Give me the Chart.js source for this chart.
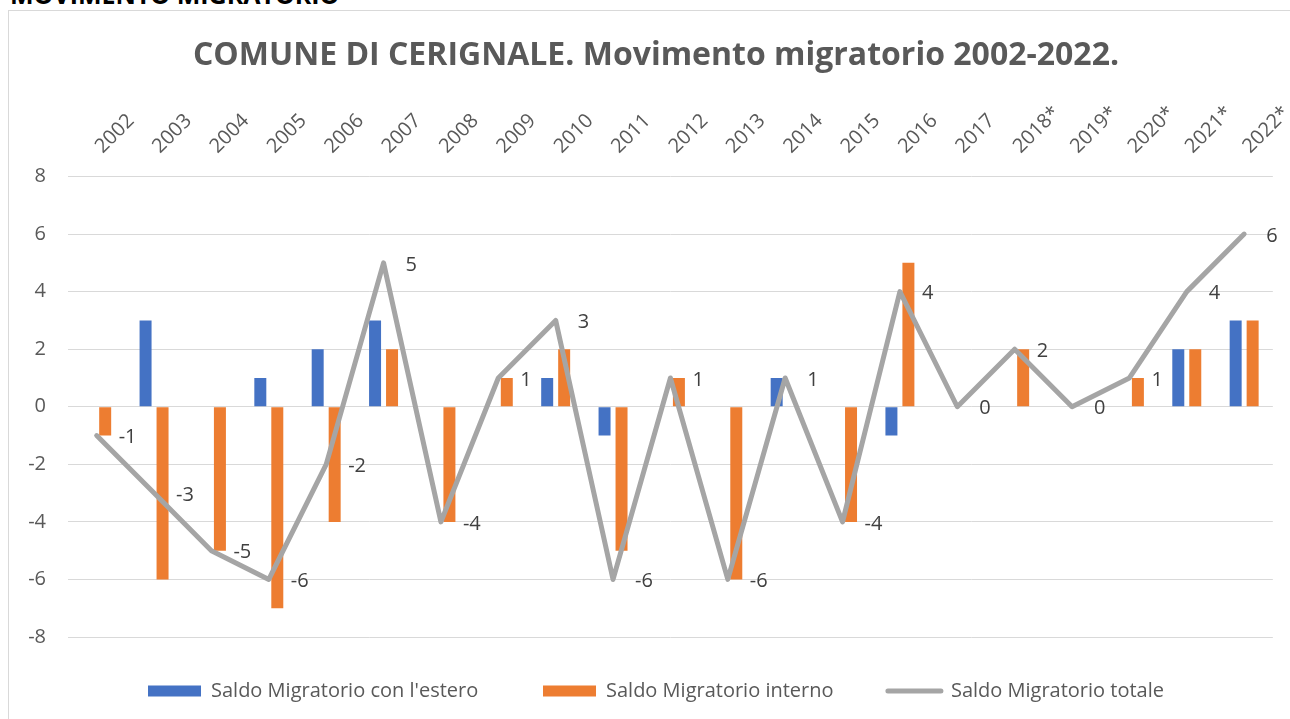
<!DOCTYPE html>
<html>
<head>
<meta charset="utf-8">
<title>Movimento migratorio</title>
<script src="https://cdn.jsdelivr.net/npm/chart.js@4.4.0/dist/chart.umd.min.js"></script>
<style>
  body { margin: 0; background: #fff; font-family: "Open Sans", sans-serif; overflow: hidden; }
  #header { position: absolute; left: 10px; top: -18px; margin: 0; font-size: 25px; line-height: 25px; font-weight: bold; color: #000; white-space: nowrap; }
  #frame { position: absolute; left: 8px; top: 10px; width: 1300px; height: 720px; border: 1px solid #d9d9d9; overflow: visible; }
  #wrap { position: absolute; left: 0; top: 0; width: 1294px; height: 708px; }
</style>
</head>
<body>
<div id="header">MOVIMENTO MIGRATORIO</div>
<div id="frame">
  <div id="wrap"><canvas id="myChart"></canvas></div>
</div>
<script>
// anni (con * le stime)
const years = ['2002', '2003', '2004', '2005', '2006', '2007', '2008', '2009', '2010', '2011',
  '2012', '2013', '2014', '2015', '2016', '2017', '2018*', '2019*', '2020*', '2021*', '2022*'];

const saldoEstero  = [0, 3, 0, 1, 2, 3, 0, 0, 1, -1, 0, 0, 1, 0, -1, 0, 0, 0, 0, 2, 3];
const saldoInterno = [-1, -6, -5, -7, -4, 2, -4, 1, 2, -5, 1, -6, 0, -4, 5, 0, 2, 0, 1, 2, 3];
const saldoTotale  = [-1, -3, -5, -6, -2, 5, -4, 1, 3, -6, 1, -6, 1, -4, 4, 0, 2, 0, 1, 4, 6];

const yTicks = [-8, -6, -4, -2, 0, 2, 4, 6, 8];

const seriesNames = ["Saldo Migratorio con l'estero", 'Saldo Migratorio interno', 'Saldo Migratorio totale'];

// etichette del saldo totale, a destra di ogni punto
const totalLabels = {
  id: 'totalLabels',
  afterLayout(chart) {
    // le etichette dell'asse y escono dalla sua larghezza: allargo la zona di clip
    chart.scales.y.left = 0;
  },
  afterDatasetsDraw(chart) {
    const meta = chart.getDatasetMeta(2);
    const ctx = chart.ctx;
    ctx.save();
    ctx.font = '20px "Open Sans"';
    ctx.fillStyle = '#404040';
    ctx.textAlign = 'left';
    ctx.textBaseline = 'middle';
    meta.data.forEach((pt, i) => {
      ctx.fillText(String(saldoTotale[i]), pt.x + 22, pt.y + 2);
    });
    ctx.restore();
  }
};

const legendPad = ['    ', '  ', ''];

new Chart(document.getElementById('myChart'), {
  type: 'bar',
  data: {
    labels: years,
    datasets: [{
      label: seriesNames[0],
      data: saldoEstero,
      backgroundColor: '#4472c4',
      order: 1,
      categoryPercentage: 0.592,
      barPercentage: 0.706
    }, {
      label: seriesNames[1],
      data: saldoInterno,
      backgroundColor: '#ed7d31',
      order: 1,
      categoryPercentage: 0.592,
      barPercentage: 0.706
    }, {
      type: 'line',
      label: seriesNames[2],
      data: saldoTotale,
      borderColor: '#a5a5a5',
      backgroundColor: '#a5a5a5',
      borderWidth: 5,
      pointRadius: 0,
      pointHoverRadius: 0,
      tension: 0,
      borderJoinStyle: 'round',
      borderCapStyle: 'round',
      order: 0
    }]
  },
  options: {
    responsive: true,
    maintainAspectRatio: false,
    animation: false,
    layout: { padding: { left: 30, right: 30, top: 0, bottom: 8 } },
    scales: {
      x: {
        position: 'top',
        offset: true,
        grid: { display: false, drawTicks: false },
        border: { display: false },
        ticks: {
          autoSkip: false,
          minRotation: 45,
          maxRotation: 45,
          labelOffset: 19,
          padding: 18,
          color: '#595959',
          font: { family: 'Open Sans', size: 20 }
        }
      },
      y: {
        min: -8,
        max: 8,
        grid: { color: '#d9d9d9', lineWidth: 1, drawTicks: false },
        border: { display: false },
        ticks: {
          padding: 22,
          color: '#595959',
          font: { family: 'Open Sans', size: 20 }
        },
        afterBuildTicks(scale) {
          scale.ticks = yTicks.map(v => ({ value: v }));
        },
        afterFit(scale) {
          scale.width = 29;
        }
      }
    },
    plugins: {
      title: {
        display: true,
        text: 'COMUNE DI CERIGNALE. Movimento migratorio 2002-2022.',
        color: '#595959',
        font: { family: 'Open Sans', size: 32, weight: 'bold' },
        padding: { top: 26, bottom: 8 }
      },
      legend: {
        position: 'bottom',
        labels: {
          usePointStyle: true,
          pointStyleWidth: 53,
          boxHeight: 11,
          padding: 44,
          color: '#595959',
          font: { family: 'Open Sans', size: 20 },
          generateLabels(chart) {
            const items = Chart.defaults.plugins.legend.labels.generateLabels(chart);
            items.forEach(it => {
              const ds = chart.data.datasets[it.datasetIndex];
              if (ds.type === 'line') {
                it.pointStyle = 'line';
                it.lineWidth = 5;
                it.strokeStyle = '#a5a5a5';
                it.lineCap = 'round';
              } else {
                it.pointStyle = 'rect';
                it.lineWidth = 0;
              }
              it.text = seriesNames[it.datasetIndex] + legendPad[it.datasetIndex];
            });
            return items.sort((a, b) => a.datasetIndex - b.datasetIndex);
          }
        }
      },
      tooltip: { enabled: false }
    }
  },
  plugins: [totalLabels]
});
</script>
</body>
</html>
